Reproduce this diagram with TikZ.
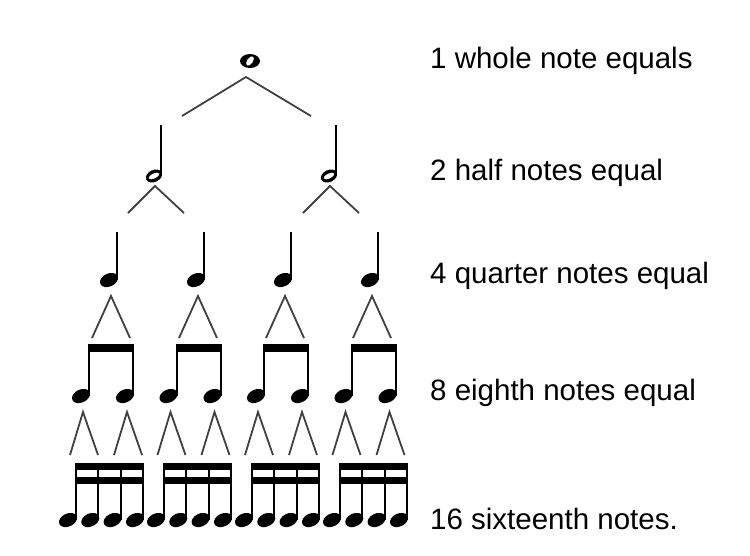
\documentclass[tikz,border=0pt]{standalone}
\usepackage{fontspec}
\setmainfont{Liberation Sans}
\tikzset{
    branch/.style={line width=1.8pt, draw=black!75},
    stem/.style={line width=2pt},
    beam/.style={fill=black},
    label/.style={anchor=west, font=\fontsize{29.5}{32}\selectfont, inner sep=0pt}
}
% filled note head at stem foot
\newcommand{\fullhead}[2]{\fill[rotate around={25:(#1,#2)}] (#1,#2) ellipse (9.5 and 6.5);}
\begin{document}
\begin{tikzpicture}[x=1pt, y=-1pt]
\useasboundingbox (0,0) rectangle (750,555);

% Whole note
\fill[even odd rule] (250,61) ellipse (10 and 7) [rotate around={-35:(250,61)}] (250,61) ellipse (3 and 5.5);
\draw[branch] (182,116) -- (246,77) -- (311,116);

% Half notes
\foreach \x in {161,336}{
  \draw[stem] (\x,125) -- (\x,176);
  \fill[even odd rule, rotate around={25:(\x-7,176)}] (\x-7,176) ellipse (8.5 and 6) (\x-7,176) ellipse (6 and 2.5);
  \draw[branch] (\x-33,213) -- (\x-6,186) -- (\x+23,213);
}

% Quarter notes
\foreach \i in {0,...,3}{
  \pgfmathsetmacro{\x}{117+87*\i}
  \draw[stem] (\x,232) -- (\x,280);
  \fullhead{\x-8}{280}
  \draw[branch] (\x-25,338) -- (\x-6,296) -- (\x+13,338);
}

% Eighth notes
\foreach \i in {0,...,3}{
  \pgfmathsetmacro{\x}{89+87.5*\i}
  \fill[beam] (\x-1,344) rectangle (\x+45,352);
  \foreach \d in {0,44}{
    \draw[stem] (\x+\d,344) -- (\x+\d,396);
    \fullhead{\x+\d-8}{396}
    \draw[branch] (\x+\d-19,455) -- (\x+\d-6,412) -- (\x+\d+9,455);
  }
}

% Sixteenth notes
\foreach \i in {0,...,3}{
  \pgfmathsetmacro{\x}{76+88*\i}
  \fill[beam] (\x-1,463) rectangle (\x+68,470);
  \fill[beam] (\x-1,477) rectangle (\x+68,484);
  \foreach \d in {0,22.3,44.6,67}{
    \draw[stem] (\x+\d,463) -- (\x+\d,520);
    \fullhead{\x+\d-8}{520}
  }
}

% Labels
\node[label] (whole) at (430,61) {1 whole note equals};
\node[label] (half) at (430,173) {2 half notes equal};
\node[label] (quarter) at (430,276) {4 quarter notes equal};
\node[label] (eighth) at (430,393) {8 eighth notes equal};
\node[label] (sixteenth) at (430,519) {16 sixteenth notes.};

\end{tikzpicture}
\end{document}
